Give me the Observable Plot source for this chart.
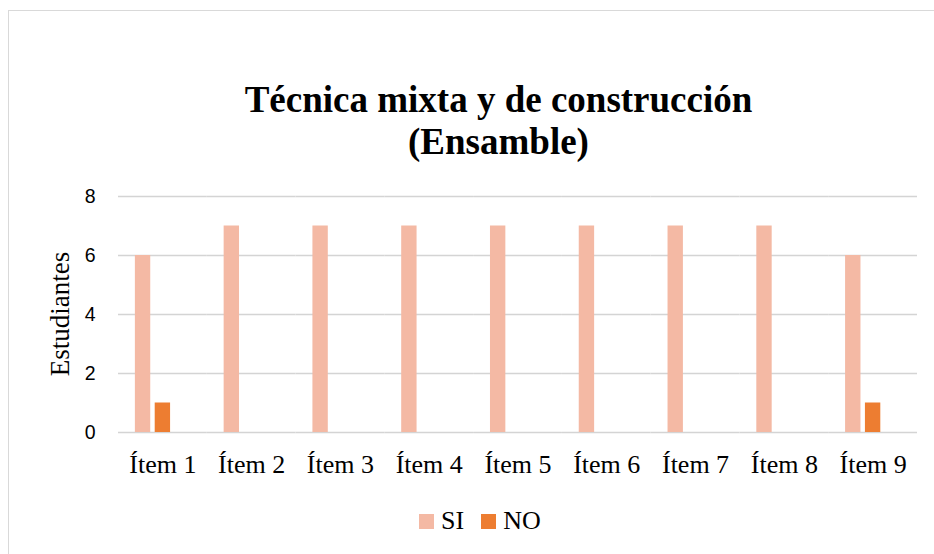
<!DOCTYPE html>
<html>
<head>
<meta charset="utf-8">
<script src="https://cdn.jsdelivr.net/npm/d3@7"></script>
<script src="https://cdn.jsdelivr.net/npm/@observablehq/plot@0.6"></script>
<style>
  html, body { margin: 0; padding: 0; width: 934px; height: 554px; overflow: hidden; background: #fff; }
  #frame { position: absolute; left: 8px; top: 10px; width: 940px; height: 560px; border: 1.5px solid #d9d9d9; box-sizing: border-box; }
  #title { position: absolute; left: 100px; width: 797px; top: 79px; text-align: center;
           font-family: "Liberation Serif", "Times New Roman", serif; font-weight: bold; font-size: 37px; line-height: 42px; color: #000; }
  #ylabel { position: absolute; left: 60px; top: 314px; transform: translate(-50%, -50%) rotate(-90deg);
            font-family: "Liberation Serif", serif; font-size: 27px; line-height: 1; white-space: nowrap; color: #000; }
  #chart { position: absolute; left: 0; top: 180px; }
  #legend { position: absolute; left: 419px; top: 506px; height: 30px; display: flex; align-items: center;
            font-family: "Liberation Serif", serif; font-size: 26px; color: #000; }
  .sw { width: 15px; height: 15px; display: inline-block; }
</style>
</head>
<body>
<div id="frame"></div>
<div id="title">Técnica mixta y de construcción<br>(Ensamble)</div>
<div id="ylabel">Estudiantes</div>
<div id="chart"></div>
<div id="legend"></div>
<script>
const items = ["Ítem 1", "Ítem 2", "Ítem 3", "Ítem 4", "Ítem 5", "Ítem 6", "Ítem 7", "Ítem 8", "Ítem 9"];
const si = [6, 7, 7, 7, 7, 7, 7, 7, 6];
const no = [1, 0, 0, 0, 0, 0, 0, 0, 1];
const series = ["SI", "NO"];
const colors = ["#F4B9A4", "#ED7D31"];
const yTicks = [0, 2, 4, 6, 8];

const data = items.flatMap((it, i) => [
  {item: it, serie: "SI", v: si[i]},
  {item: it, serie: "NO", v: no[i]}
]);

const chart = Plot.plot({
  width: 934,
  height: 300,
  marginTop: 16,
  marginBottom: 48,
  marginLeft: 118,
  marginRight: 17,
  style: {background: "transparent", overflow: "visible"},
  fx: {domain: items, padding: 0, round: false, label: null},
  x: {domain: ["SI", "NO", "_"], paddingInner: 0.225, paddingOuter: 0.85, round: false, axis: null},
  y: {domain: [0, 8], label: null},
  color: {domain: series, range: colors},
  marks: [
    Plot.ruleY(yTicks, {stroke: "#d4d4d4", strokeWidth: 1.5}),
    Plot.barY(data, {fx: "item", x: "serie", y: "v", fill: "serie"}),
    Plot.axisY({ticks: yTicks, tickSize: 0, tickPadding: 23, fontSize: 19.5, fontFamily: "Liberation Sans, sans-serif", label: null}),
    Plot.axisFx({anchor: "bottom", tickSize: 0, tickPadding: 22, fontSize: 26, fontFamily: "Liberation Serif, serif", label: null})
  ]
});
document.getElementById("chart").appendChild(chart);

const legend = document.getElementById("legend");
series.forEach((s, i) => {
  const sw = document.createElement("span");
  sw.className = "sw";
  sw.style.background = colors[i];
  sw.style.marginLeft = i === 0 ? "0px" : "17px";
  sw.style.marginRight = "7px";
  const t = document.createElement("span");
  t.textContent = s;
  legend.appendChild(sw);
  legend.appendChild(t);
});
</script>
</body>
</html>
